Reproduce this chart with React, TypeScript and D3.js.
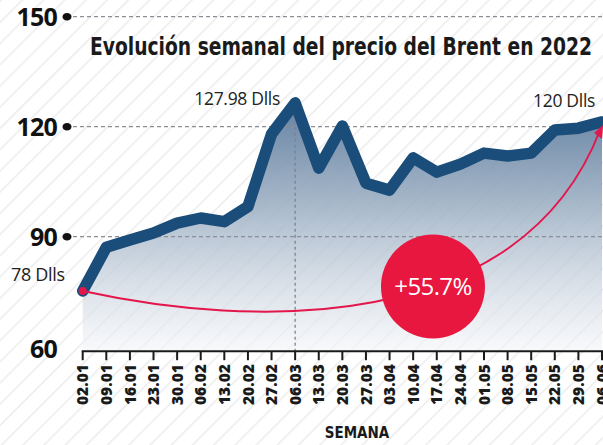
import React from "react";
import * as d3 from "d3";

const weeks = ["02.01","09.01","16.01","23.01","30.01","06.02","13.02","20.02","27.02","06.03","13.03","20.03","27.03","03.04","10.04","17.04","24.04","01.05","08.05","15.05","22.05","29.05","06.06"];
const prices = [75.2,87.1,89.1,91.0,93.7,95.1,94.1,98.2,118.0,126.5,108.7,120.2,104.6,102.7,111.5,107.6,109.8,112.8,112.0,112.8,119.1,119.6,121.3];
const yTicks = [150, 120, 90, 60];
const gridValues = [150, 120, 90];
const peakIndex = 9;
// annotation curve anchors in data units [index, value]
const curveStart: [number, number] = [0, 75.2];
const curveC1: [number, number] = [7.09, 65.2];
const curveC2: [number, number] = [18.53, 62.6];
const curveEnd: [number, number] = [21.92, 119.1];
const bubble: [number, number] = [14.84, 76.4];

export default function App() {
  const W = 603, H = 445;
  const x = d3.scaleLinear().domain([0, 22]).range([82.7, 602]);
  const y = d3.scaleLinear().domain([60, 150]).range([346.7, 16.7]);
  const axisY = y(60) + 4.5;

  const idx = prices.map((_, i) => i);
  const line = d3.line<number>().x(i => x(i)).y(i => y(prices[i]));
  const area = d3.area<number>().x(i => x(i)).y0(axisY).y1(i => y(prices[i]));

  const cp = d3.path();
  cp.moveTo(x(curveStart[0]), y(curveStart[1]));
  cp.bezierCurveTo(x(curveC1[0]), y(curveC1[1]), x(curveC2[0]), y(curveC2[1]), x(curveEnd[0]), y(curveEnd[1]));

  const ex = x(curveEnd[0]), ey = y(curveEnd[1]);

  return (
    <svg width={W} height={H} style={{ position: "absolute", left: 0, top: 0, background: "#fff" }}>
      <defs>
        <pattern id="stripes" width="15" height="15" patternUnits="userSpaceOnUse" patternTransform="rotate(45)">
          <rect width="15" height="15" fill="#ffffff" />
          <line x1="0" y1="0" x2="0" y2="15" stroke="#ececec" strokeWidth="3" />
        </pattern>
        <linearGradient id="areaGrad" gradientUnits="userSpaceOnUse" x1="0" y1={y(128)} x2="0" y2={axisY}>
          <stop offset="0" stopColor="#58779a" stopOpacity="0.95" />
          <stop offset="0.4" stopColor="#97abc0" stopOpacity="0.88" />
          <stop offset="1" stopColor="#f3f5f8" stopOpacity="0.6" />
        </linearGradient>
      </defs>
      <rect width={W} height={H} fill="url(#stripes)" />

      <path d={area(idx) || ""} fill="url(#areaGrad)" />

      {gridValues.map(v => (
        <g key={v}>
          <line x1={73} x2={W} y1={y(v)} y2={y(v)} stroke="#8a8f95" strokeWidth={1.2} strokeDasharray="4 3" />
          <ellipse cx={67} cy={y(v)} rx={4.5} ry={3.8} fill="#111" />
        </g>
      ))}
      {yTicks.map(v => (
        <text key={v} x={57} y={v === 60 ? axisY - 2 : y(v)} dy="0.36em" textAnchor="end"
          fontFamily="'Open Sans', sans-serif" fontWeight={700} fontSize={25} fill="#111" letterSpacing={-0.8}>{v}</text>
      ))}

      <line x1={x(peakIndex)} x2={x(peakIndex)} y1={y(prices[peakIndex])} y2={axisY} stroke="#7d838a" strokeWidth={1.3} strokeDasharray="3 3" />

      <path d={line(idx) || ""} fill="none" stroke="#1b4d7a" strokeWidth={11.5} strokeLinejoin="round" strokeLinecap="round" />

      <path d={cp.toString()} fill="none" stroke="#e3174b" strokeWidth={2} />
      <circle cx={x(curveStart[0])} cy={y(curveStart[1])} r={4} fill="#e3174b" />
      <path d={`M${ex + 3},${ey - 5} L${ex - 6},${ey + 3} L${ex + 2},${ey + 9} Z`} fill="#e3174b" />

      <circle cx={x(bubble[0])} cy={y(bubble[1])} r={52} fill="#e8173f" />
      <text x={x(bubble[0])} y={y(bubble[1])} dy="0.36em" textAnchor="middle" fontFamily="'Open Sans', sans-serif"
        fontSize={24} fill="#fff" letterSpacing={-0.6}>+55.7%</text>

      <text x={280} y={105} textAnchor="end" fontFamily="'Open Sans', sans-serif" fontSize={17.5} fill="#222" letterSpacing={-0.3}>127.98 Dlls</text>
      <text x={11} y={281} fontFamily="'Open Sans', sans-serif" fontSize={18} fill="#222" letterSpacing={-0.3}>78 Dlls</text>
      <text x={533} y={107} fontFamily="'Open Sans', sans-serif" fontSize={17.5} fill="#222" letterSpacing={-0.3}>120 Dlls</text>

      <text x={341} y={55} textAnchor="middle" fontFamily="'DejaVu Sans Condensed', 'DejaVu Sans', sans-serif"
        fontWeight={700} fontSize={25} fill="#1a1a1a" textLength={502} lengthAdjust="spacingAndGlyphs">Evolución semanal del precio del Brent en 2022</text>

      <line x1={x(0) - 1} x2={W} y1={axisY} y2={axisY} stroke="#1a1a1a" strokeWidth={2} />
      {weeks.map((w, i) => (
        <g key={w} transform={`translate(${x(i)},${axisY})`}>
          <line y1={0} y2={9} stroke="#1a1a1a" strokeWidth={2} />
          <text transform="translate(0,13) rotate(-90)" dy="0.36em" textAnchor="end"
            fontFamily="'Open Sans', sans-serif" fontWeight={800} fontSize={15.5} fill="#1a1a1a">{w}</text>
        </g>
      ))}
      <text x={357} y={438} textAnchor="middle" fontFamily="'DejaVu Sans Condensed', 'DejaVu Sans', sans-serif"
        fontWeight={700} fontSize={15} fill="#1a1a1a">SEMANA</text>
    </svg>
  );
}
